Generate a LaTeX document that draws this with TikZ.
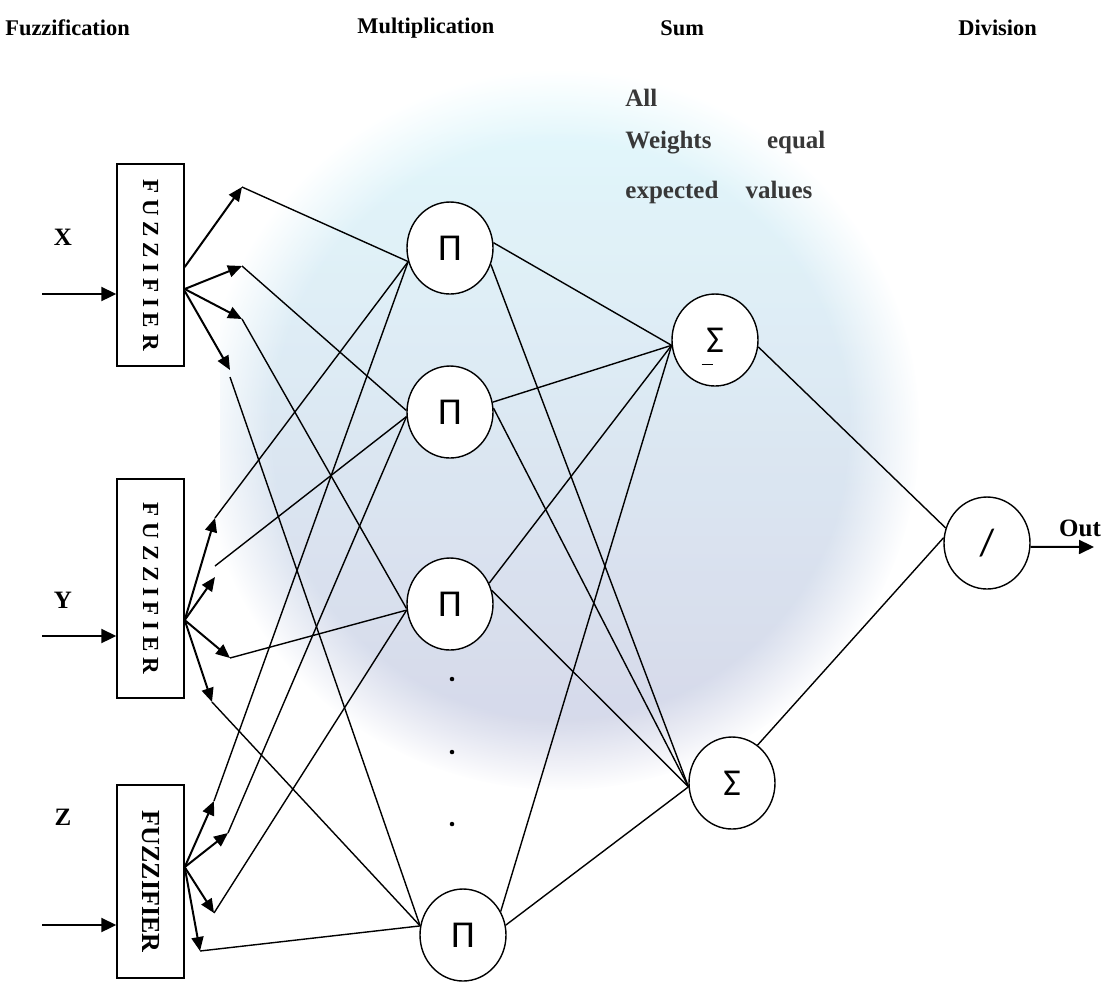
\documentclass[tikz,border=0pt]{standalone}
\usepackage{fontspec}
\setmainfont{Liberation Serif}
\newfontfamily\gkfont{Carlito}
\usetikzlibrary{shapes.geometric,arrows.meta,fadings}
\definecolor{globetop}{RGB}{222,248,252}
\definecolor{globemid}{RGB}{200,222,250}
\definecolor{globebot}{RGB}{205,207,228}

\begin{document}
\begin{tikzpicture}[x=0.5pt,y=-0.5pt,
  fuzbox/.style={draw,fill=white,line width=0.7pt,minimum width=33.5pt,inner sep=0pt},
  opnode/.style={ellipse,draw,fill=white,line width=0.7pt,minimum width=43pt,minimum height=46pt,inner sep=0pt,font=\gkfont\fontsize{19}{19}\selectfont},
  hdr/.style={anchor=west,inner sep=0pt,font=\bfseries\fontsize{11.2}{13}\selectfont},
  notetext/.style={anchor=west,inner sep=0pt,text=black!78,font=\bfseries\fontsize{12.5}{14}\selectfont},
  varlbl/.style={inner sep=0pt,font=\bfseries\fontsize{12.5}{14}\selectfont},
  dotmark/.style={circle,fill,inner sep=0.8pt},
  arr/.style={-{Triangle[length=7pt,width=6pt]},line width=1pt},
  inarr/.style={-{Triangle[length=7.5pt,width=7pt]},line width=1pt},
  wire/.style={line width=0.7pt}]
  \useasboundingbox (0,0) rectangle (1103,982);

  % faint globe behind the net
  \begin{scope}
    \clip (220,0) rectangle (1000,838);
    \shade[top color=globetop,middle color=globemid,bottom color=globebot,opacity=0.85,
      path fading=circle with fuzzy edge 20 percent] (560,430) circle (180pt);
  \end{scope}

  \node (h1) at (5,28) [hdr]{Fuzzification};
  \node (h2) at (357,28) [hdr]{Multiplication};
  \node (h3) at (660,28) [hdr]{Sum};
  \node (h4) at (958,28) [hdr]{Division};

  \node (n1) at (625,98) [notetext]{All};
  \node (n2) at (625,143) [notetext]{\makebox[100pt][s]{Weights equal}};
  \node (n3) at (625,192) [notetext]{\makebox[93.5pt][s]{expected values}};

  \node (xlab) at (63,237) [varlbl]{X};
  \node (ylab) at (63,600) [varlbl]{Y};
  \node (zlab) at (63,817) [varlbl]{Z};

  \node (fx) at (150.5,265) [fuzbox,minimum height=101pt]{\rotatebox{-90}{\bfseries\fontsize{11.5}{12}\selectfont F U Z Z I F I E R}};
  \node (fy) at (150.5,588.5) [fuzbox,minimum height=109.5pt]{\rotatebox{-90}{\bfseries\fontsize{11.5}{12}\selectfont F U Z Z I F I E R}};
  \node (fz) at (150.5,881.5) [fuzbox,minimum height=96.5pt]{\rotatebox{-90}{\bfseries\fontsize{13}{13}\selectfont FUZZIFIER}};

  \node (p1) at (450,248) [opnode]{Π};
  \node (p2) at (450,412) [opnode]{Π};
  \node (p3) at (450,604) [opnode]{Π};
  \node (p4) at (463,935) [opnode]{Π};

  \node (d1) at (452,679) [dotmark]{};
  \node (d2) at (452,752) [dotmark]{};
  \node (d3) at (452,824) [dotmark]{};

  \node (s1) at (715,340) [opnode,label={[inner sep=0pt,xshift=-4pt,yshift=-12pt]center:\rule{5.5pt}{0.5pt}}]{Σ};
  \node (s2) at (732,783) [opnode]{Σ};
  \node (dv) at (987,543) [opnode]{/};

  \node (outl) at (1080,528) [varlbl]{Out};
  \coordinate (outend) at (1094,547);

  \coordinate (xin) at (42,294);
  \coordinate (yin) at (42,636);
  \coordinate (zin) at (42,925);

  \coordinate (xa) at (242,187);
  \coordinate (xb) at (242,266);
  \coordinate (xc) at (242,319);
  \coordinate (xd) at (230,370);
  \coordinate (xd2) at (230,377);
  \coordinate (ya) at (215,518);
  \coordinate (yb) at (215,577);
  \coordinate (yb2) at (215,566);
  \coordinate (yc) at (230,658);
  \coordinate (yd) at (212,702);
  \coordinate (za) at (214,801);
  \coordinate (zb) at (228,833);
  \coordinate (zc) at (214,913);
  \coordinate (zd) at (200,951);

  \draw[inarr] (xin) -- (xin -| fx.west);
  \draw[inarr] (yin) -- (yin -| fy.west);
  \draw[inarr] (zin) -- (zin -| fz.west);

  \draw[arr] ([yshift=-1pt]fx.east) -- (xa);
  \draw[arr] ([yshift=-12pt]fx.east) -- (xb);
  \draw[arr] ([yshift=-12pt]fx.east) -- (xc);
  \draw[arr] ([yshift=-13pt]fx.east) -- (xd);

  \draw[arr] ([yshift=-15.8pt]fy.east) -- (ya);
  \draw[arr] ([yshift=-15.8pt]fy.east) -- (yb);
  \draw[arr] ([yshift=-15.8pt]fy.east) -- (yc);
  \draw[arr] ([yshift=-15.8pt]fy.east) -- (yd);

  \draw[arr] ([yshift=7.2pt]fz.east) -- (za);
  \draw[arr] ([yshift=7.2pt]fz.east) -- (zb);
  \draw[arr] ([yshift=7.2pt]fz.east) -- (zc);
  \draw[arr] ([yshift=7.2pt]fz.east) -- (zd);

  \draw[wire] (xa) -- (p1.198);
  \draw[wire] (ya) -- (p1.198);
  \draw[wire] (za) -- (p1.198);

  \draw[wire] (xb) -- (p2.178);
  \draw[wire] (yb2) -- (p2.186);
  \draw[wire] (zb) -- (p2.186);

  \draw[wire] (xc) -- (p3.186);
  \draw[wire] (yc) -- (p3.188);
  \draw[wire] (zc) -- (p3.188);

  \draw[wire] (xd2) -- (p4.168);
  \draw[wire] (yd) -- (p4.168);
  \draw[wire] (zd) -- (p4.168);

  \draw[wire] (p1.7) -- (s1.187);
  \draw[wire] (p1.-22) -- (s2.185);
  \draw[wire] (p2.13) -- (s1.187);
  \draw[wire] (p2.5) -- (s2.185);
  \draw[wire] (p3.28) -- (s1.187);
  \draw[wire] (p3.18) -- (s2.185);
  \draw[wire] (p4.32) -- (s1.187);
  \draw[wire] (p4.13) -- (s2.185);

  \draw[wire] (s1.-9) -- (dv.160);
  \draw[wire] (s2.56) -- (dv.173);
  \draw[inarr] (dv.-5) -- (outend);

\end{tikzpicture}
\end{document}
